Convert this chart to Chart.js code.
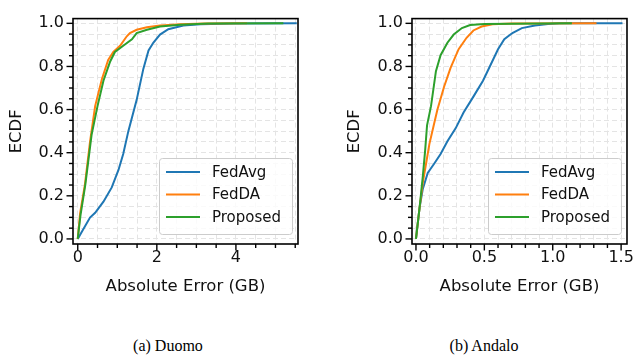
<!DOCTYPE html>
<html>
<head>
<meta charset="utf-8">
<script src="https://cdn.jsdelivr.net/npm/chart.js@4.4.1/dist/chart.umd.min.js"></script>
<style>
  html, body { margin: 0; padding: 0; background: #fff; }
  #wrap { position: relative; width: 638px; height: 360px; overflow: hidden; }
  canvas { position: absolute; top: 0; }
  #c-duomo  { left: 0; }
  #c-andalo { left: 319px; }
  .caption {
    position: absolute; top: 337px; width: 200px; text-align: center;
    font-family: "Liberation Serif", "Times New Roman", serif; font-size: 16px; color: #000;
  }
</style>
</head>
<body>
<div id="wrap">
  <canvas id="c-duomo" width="319" height="300"></canvas>
  <canvas id="c-andalo" width="319" height="300"></canvas>
  <div class="caption" style="left:68px">(a) Duomo</div>
  <div class="caption" style="left:384px">(b) Andalo</div>
</div>
<script>
// ── Data ──────────────────────────────────────────────────────────────────────
const seriesLabels = ['FedAvg', 'FedDA', 'Proposed'];
const seriesColors = ['#1f77b4', '#ff7f0e', '#2ca02c'];

// (a) Duomo
const duomoFedAvgX   = [0, 0.10, 0.31, 0.44, 0.65, 0.86, 1.03, 1.15, 1.28, 1.49, 1.66, 1.79, 1.91, 2.08, 2.29, 2.67, 3.10, 3.93, 5.54];
const duomoFedAvgY   = [0, 0.032, 0.099, 0.121, 0.173, 0.239, 0.32, 0.394, 0.50, 0.645, 0.79, 0.874, 0.91, 0.948, 0.973, 0.99, 0.996, 0.999, 1.0];
const duomoFedDAX    = [0, 0.06, 0.18, 0.31, 0.44, 0.61, 0.77, 0.90, 1.07, 1.24, 1.32, 1.49, 1.75, 2.08, 2.6, 3.2, 4.28];
const duomoFedDAY    = [0, 0.12, 0.25, 0.45, 0.616, 0.741, 0.83, 0.867, 0.896, 0.94, 0.955, 0.97, 0.982, 0.99, 0.996, 0.999, 1.0];
const duomoProposedX = [0, 0.07, 0.19, 0.35, 0.50, 0.65, 0.82, 0.94, 1.15, 1.37, 1.49, 1.75, 2.08, 2.6, 3.3, 5.2];
const duomoProposedY = [0, 0.11, 0.25, 0.483, 0.616, 0.734, 0.823, 0.867, 0.896, 0.926, 0.955, 0.97, 0.985, 0.994, 0.999, 1.0];

// (b) Andalo
const andaloFedAvgX   = [0, 0.026, 0.05, 0.086, 0.134, 0.18, 0.23, 0.29, 0.348, 0.42, 0.49, 0.54, 0.60, 0.646, 0.705, 0.774, 0.87, 0.965, 1.05, 1.51];
const andaloFedAvgY   = [0, 0.143, 0.232, 0.306, 0.35, 0.394, 0.453, 0.513, 0.586, 0.66, 0.734, 0.80, 0.88, 0.926, 0.955, 0.978, 0.99, 0.997, 1.0, 1.0];
const andaloFedDAX    = [0, 0.026, 0.05, 0.074, 0.098, 0.13, 0.157, 0.205, 0.253, 0.312, 0.37, 0.42, 0.48, 0.56, 0.7, 1.32];
const andaloFedDAY    = [0, 0.143, 0.26, 0.35, 0.44, 0.527, 0.60, 0.705, 0.793, 0.88, 0.933, 0.967, 0.985, 0.996, 0.999, 1.0];
const andaloProposedX = [0, 0.026, 0.05, 0.067, 0.081, 0.11, 0.146, 0.18, 0.23, 0.276, 0.336, 0.396, 0.5, 1.14];
const andaloProposedY = [0, 0.143, 0.29, 0.41, 0.527, 0.616, 0.778, 0.852, 0.91, 0.948, 0.978, 0.992, 0.997, 1.0];

// Axis ranges and tick steps
const yRange      = [-0.0235, 1.022];
const yMinorStep  = 0.05;
const yMajorStep  = 0.2;
const duomoXRange = [-0.12, 5.57];
const duomoXMinor = 0.5;
const duomoXMajor = 2;
const andaloXRange = [-0.029, 1.543];
const andaloXMinor = 0.1;
const andaloXMajor = 0.5;

const FONT = 'DejaVu Sans';
const TXT  = '#111';
const TICK_SIZE = 16;
const TITLE_SIZE = 16.5;
const LEGEND_SIZE = 15;

const isMultiple = (v, step) => Math.abs(v / step - Math.round(v / step)) < 1e-6;
const zip = (xs, ys) => xs.map((x, i) => ({ x, y: ys[i] }));

// ── Spines, major/minor tick marks, inset legend ─────────────────────────────
const framePlugin = {
  id: 'frame',
  afterDraw(chart, args, opts) {
    const { ctx, chartArea: a, scales } = chart;
    ctx.save();
    ctx.strokeStyle = '#000';
    ctx.lineWidth = 1.4;
    scales.x.ticks.forEach(t => {
      const px = scales.x.getPixelForValue(t.value);
      const len = isMultiple(t.value, opts.xMajor) ? 6.5 : 4;
      ctx.beginPath(); ctx.moveTo(px, a.bottom); ctx.lineTo(px, a.bottom + len); ctx.stroke();
    });
    scales.y.ticks.forEach(t => {
      const py = scales.y.getPixelForValue(t.value);
      const len = isMultiple(t.value, yMajorStep) ? 6.5 : 4;
      ctx.beginPath(); ctx.moveTo(a.left, py); ctx.lineTo(a.left - len, py); ctx.stroke();
    });
    ctx.lineWidth = 1.6;
    ctx.strokeRect(a.left, a.top, a.right - a.left, a.bottom - a.top);

    // legend (lower right)
    const w = 133, h = 76;
    const lx = a.right - 6 - w, ly = a.bottom - 10 - h;
    ctx.beginPath();
    ctx.roundRect(lx + 0.5, ly + 0.5, w, h, 3);
    ctx.fillStyle = 'rgba(255,255,255,0.8)';
    ctx.fill();
    ctx.strokeStyle = '#cccccc';
    ctx.lineWidth = 1;
    ctx.stroke();
    ctx.font = `${LEGEND_SIZE}px "${FONT}"`;
    ctx.textBaseline = 'middle';
    chart.data.datasets.forEach((ds, i) => {
      const ry = ly + 14 + i * 22.5;
      ctx.strokeStyle = ds.borderColor;
      ctx.lineWidth = 2;
      ctx.beginPath(); ctx.moveTo(lx + 7, ry); ctx.lineTo(lx + 41, ry); ctx.stroke();
      ctx.fillStyle = TXT;
      ctx.fillText(ds.label, lx + 53, ry + 1);
    });
    ctx.restore();
  }
};

function makeChart(id, series, xRange, xMinor, xMajor, yAxisWidth, padRight, yTitlePad) {
  const datasets = series.map((s, i) => ({
    label: seriesLabels[i],
    data: zip(s[0], s[1]),
    borderColor: seriesColors[i],
    backgroundColor: seriesColors[i],
    borderWidth: 2,
    pointRadius: 0,
    tension: 0,
    order: series.length - i,
  }));
  return new Chart(document.getElementById(id).getContext('2d'), {
    type: 'line',
    data: { datasets },
    plugins: [framePlugin],
    options: {
      responsive: false, animation: false, devicePixelRatio: 1,
      layout: { padding: { left: 0, right: padRight, top: 8, bottom: 0 } },
      plugins: { legend: { display: false }, tooltip: { enabled: false }, frame: { xMajor } },
      scales: {
        x: {
          type: 'linear', min: xRange[0], max: xRange[1],
          afterFit: s => { s.height = 56; },
          grid: { color: '#e4e4e4', lineWidth: 1, drawTicks: false },
          border: { display: false, dash: [5, 3] },
          ticks: {
            stepSize: xMinor, includeBounds: false, autoSkip: false, maxRotation: 0, padding: 4,
            color: TXT, font: { family: FONT, size: TICK_SIZE },
            callback: v => isMultiple(v, xMajor) ? (xMajor < 1 ? v.toFixed(1) : String(Math.round(v))) : '',
          },
          title: { display: true, text: 'Absolute Error (GB)', color: TXT, font: { family: FONT, size: TITLE_SIZE }, padding: { top: 3, bottom: 3 } },
        },
        y: {
          type: 'linear', min: yRange[0], max: yRange[1],
          afterFit: s => { s.width = yAxisWidth; },
          grid: { color: '#e4e4e4', lineWidth: 1, drawTicks: false },
          border: { display: false, dash: [5, 3] },
          ticks: {
            stepSize: yMinorStep, includeBounds: false, autoSkip: false, padding: 9,
            color: TXT, font: { family: FONT, size: TICK_SIZE },
            callback: v => isMultiple(v, yMajorStep) ? v.toFixed(1) : '',
          },
          title: { display: true, text: 'ECDF', color: TXT, font: { family: FONT, size: TITLE_SIZE }, padding: { top: yTitlePad, bottom: yTitlePad } },
        },
      },
    },
  });
}

// ── Init ──────────────────────────────────────────────────────────────────────
makeChart('c-duomo', [
  [duomoFedAvgX, duomoFedAvgY],
  [duomoFedDAX, duomoFedDAY],
  [duomoProposedX, duomoProposedY],
], duomoXRange, duomoXMinor, duomoXMajor, 73, 21, 7);

makeChart('c-andalo', [
  [andaloFedAvgX, andaloFedAvgY],
  [andaloFedDAX, andaloFedDAY],
  [andaloProposedX, andaloProposedY],
], andaloXRange, andaloXMinor, andaloXMajor, 93, 6, 26);
</script>
</body>
</html>
